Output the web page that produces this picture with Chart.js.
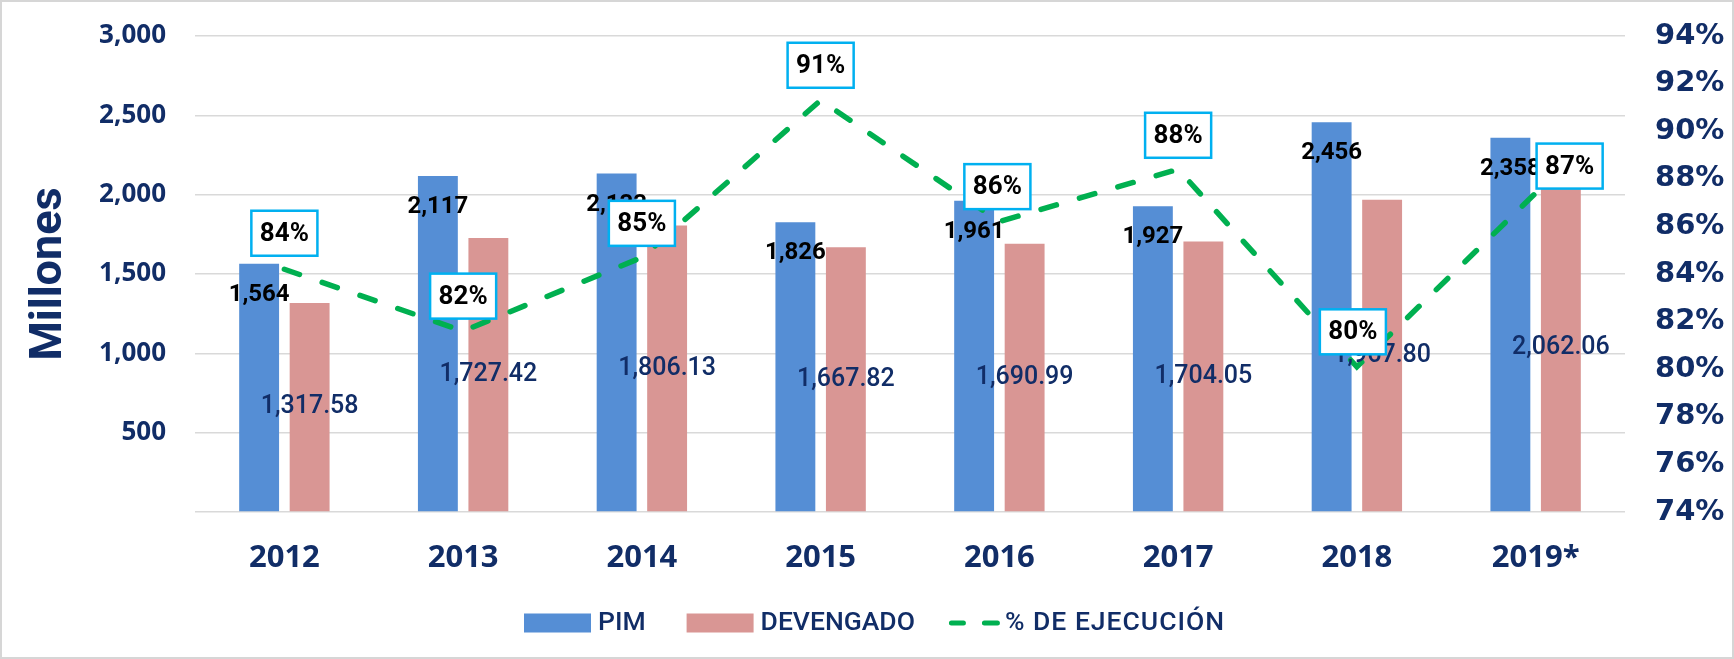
<!DOCTYPE html>
<html>
<head>
<meta charset="utf-8">
<script src="https://cdn.jsdelivr.net/npm/chart.js@4.4.0/dist/chart.umd.min.js"></script>
<style>
  html, body { margin: 0; padding: 0; background: #fff; }
  #wrap { width: 1734px; height: 659px; position: relative; }
</style>
</head>
<body>
<div id="wrap"><canvas id="ejecucionChart"></canvas></div>
<script>
// datos
const years = ['2012', '2013', '2014', '2015', '2016', '2017', '2018', '2019*'];
const pim = [1564, 2117, 2133, 1826, 1961, 1927, 2456, 2358];
const devengado = [1317.58, 1727.42, 1806.13, 1667.82, 1690.99, 1704.05, 1967.80, 2062.06];
const ejecucion = [84.2, 81.6, 84.7, 91.3, 86.2, 88.4, 80.1, 87.4];
const millonesTicks = [0, 500, 1000, 1500, 2000, 2500, 3000];
const pctTicks = [74, 76, 78, 80, 82, 84, 86, 88, 90, 92, 94];

const navy = '#112d67';
const blue = '#558ed5';
const pink = '#d99694';
const green = '#00b050';

// desplazamiento de las etiquetas de % respecto al punto
const pctLabelShift = [[0, -36], [0, -35], [0, -34], [0, -35], [-2, -35], [0, -34], [-4, -35], [34, -27]];

const framePlugin = {
    id: 'frame',
    beforeDraw(chart) {
        const ctx = chart.ctx;
        ctx.save();
        ctx.fillStyle = '#ffffff';
        ctx.fillRect(0, 0, chart.width, chart.height);
        ctx.strokeStyle = '#d6d6d6';
        ctx.lineWidth = 2;
        ctx.strokeRect(1, 1, chart.width - 2, chart.height - 2);
        ctx.restore();
    }
};

const labelsPlugin = {
    id: 'valueLabels',
    afterDatasetsDraw(chart) {
        const ctx = chart.ctx;
        const metaLine = chart.getDatasetMeta(0);
        const metaPim = chart.getDatasetMeta(1);
        const metaDev = chart.getDatasetMeta(2);
        ctx.save();
        ctx.textAlign = 'center';
        ctx.textBaseline = 'middle';

        ctx.font = 'bold 24px Roboto';
        ctx.fillStyle = '#000000';
        metaPim.data.forEach((bar, i) => {
            ctx.fillText(pim[i].toLocaleString('en-US'), bar.x, bar.y + 31);
        });

        ctx.font = '500 25px Roboto';
        ctx.fillStyle = navy;
        metaDev.data.forEach((bar, i) => {
            const txt = devengado[i].toLocaleString('en-US', { minimumFractionDigits: 2, maximumFractionDigits: 2 });
            ctx.fillText(txt, bar.x, (bar.y + bar.base) / 2);
        });

        ctx.font = 'bold 26px Roboto';
        metaLine.data.forEach((pt, i) => {
            const txt = Math.round(ejecucion[i]) + '%';
            const w = ctx.measureText(txt).width + 17;
            const h = 45;
            const cx = pt.x + pctLabelShift[i][0];
            const cy = pt.y + pctLabelShift[i][1];
            ctx.fillStyle = '#ffffff';
            ctx.fillRect(cx - w / 2, cy - h / 2, w, h);
            ctx.strokeStyle = '#00b0f0';
            ctx.lineWidth = 2.5;
            ctx.strokeRect(cx - w / 2, cy - h / 2, w, h);
            ctx.fillStyle = '#000000';
            ctx.fillText(txt, cx, cy + 1);
        });
        ctx.restore();
    }
};

const legendPlugin = {
    id: 'bottomLegend',
    afterDraw(chart) {
        const ctx = chart.ctx;
        const ds = chart.data.datasets;
        const items = [
            { text: ds[1].label, kind: 'box', color: ds[1].backgroundColor, after: 41 },
            { text: ds[2].label, kind: 'box', color: ds[2].backgroundColor, after: 34 },
            { text: ds[0].label, kind: 'dash', color: ds[0].borderColor, after: 0, spacing: '1px' }
        ];
        ctx.save();
        ctx.font = '500 26.5px Roboto';
        ctx.textBaseline = 'middle';
        ctx.textAlign = 'left';
        const y = 623;
        let x = 524;
        items.forEach((it) => {
            const sw = it.kind === 'box' ? 67 : 51;
            const gap = it.kind === 'box' ? 7 : 5;
            if (it.kind === 'box') {
                ctx.fillStyle = it.color;
                ctx.fillRect(x, y - 9.5, sw, 19);
            } else {
                ctx.strokeStyle = it.color;
                ctx.lineWidth = 5;
                ctx.lineCap = 'round';
                ctx.beginPath();
                ctx.moveTo(x + 2.5, y); ctx.lineTo(x + 14.5, y);
                ctx.moveTo(x + 35.5, y); ctx.lineTo(x + 48.5, y);
                ctx.stroke();
            }
            x += sw + gap;
            ctx.letterSpacing = it.spacing || '0px';
            ctx.fillStyle = navy;
            ctx.fillText(it.text, x, y);
            x += ctx.measureText(it.text).width + it.after;
        });
        ctx.restore();
    }
};

// sin margen extra arriba/abajo por las etiquetas del eje vertical
function fixVertical(width) {
    return (s) => {
        s.width = width;
        s.paddingTop = 0;
        s.paddingBottom = 0;
    };
}

const ctx = document.getElementById('ejecucionChart').getContext('2d');

new Chart(ctx, {
    data: {
        labels: years,
        datasets: [
            {
                type: 'line',
                label: '% DE EJECUCIÓN',
                data: ejecucion,
                yAxisID: 'y1',
                borderColor: green,
                backgroundColor: green,
                borderWidth: 5.5,
                borderDash: [16, 24],
                borderCapStyle: 'round',
                pointRadius: 0,
                tension: 0,
                fill: false,
                order: 0
            },
            {
                type: 'bar',
                label: 'PIM',
                data: pim,
                yAxisID: 'y',
                backgroundColor: blue,
                categoryPercentage: 0.565,
                barPercentage: 0.79,
                order: 1
            },
            {
                type: 'bar',
                label: 'DEVENGADO',
                data: devengado,
                yAxisID: 'y',
                backgroundColor: pink,
                categoryPercentage: 0.565,
                barPercentage: 0.79,
                order: 2
            }
        ]
    },
    options: {
        responsive: true,
        maintainAspectRatio: false,
        animation: false,
        layout: { padding: { top: 36, left: 0, right: 0, bottom: 0 } },
        plugins: {
            legend: { display: false },
            tooltip: { enabled: false }
        },
        scales: {
            x: {
                grid: { display: false },
                border: { display: false },
                ticks: {
                    color: navy,
                    font: { family: 'Open Sans', weight: 'bold', size: 31 },
                    padding: 20
                },
                afterFit: (s) => { s.height = 147; }
            },
            y: {
                position: 'left',
                min: 0,
                max: 3000,
                afterBuildTicks: (s) => { s.ticks = millonesTicks.map(v => ({ value: v })); },
                grid: { color: '#d9d9d9', lineWidth: 1.5, drawTicks: false },
                border: { display: false },
                ticks: {
                    color: navy,
                    font: { family: 'Open Sans', weight: 'bold', size: 26 },
                    padding: 29,
                    callback: (v) => v === 0 ? '' : v.toLocaleString('en-US')
                },
                title: {
                    display: true,
                    text: 'Millones',
                    color: navy,
                    font: { family: 'Roboto', weight: 'bold', size: 45 },
                    padding: { top: 23, bottom: 0 }
                },
                afterFit: fixVertical(195)
            },
            y1: {
                position: 'right',
                min: 74,
                max: 94,
                afterBuildTicks: (s) => { s.ticks = pctTicks.map(v => ({ value: v })); },
                grid: { display: false, drawTicks: false },
                border: { display: false },
                ticks: {
                    color: navy,
                    font: { family: 'DejaVu Sans', weight: 'bold', size: 29 },
                    padding: 30,
                    callback: (v) => v + '%'
                },
                afterFit: fixVertical(109)
            }
        }
    },
    plugins: [framePlugin, labelsPlugin, legendPlugin]
});
</script>
</body>
</html>
